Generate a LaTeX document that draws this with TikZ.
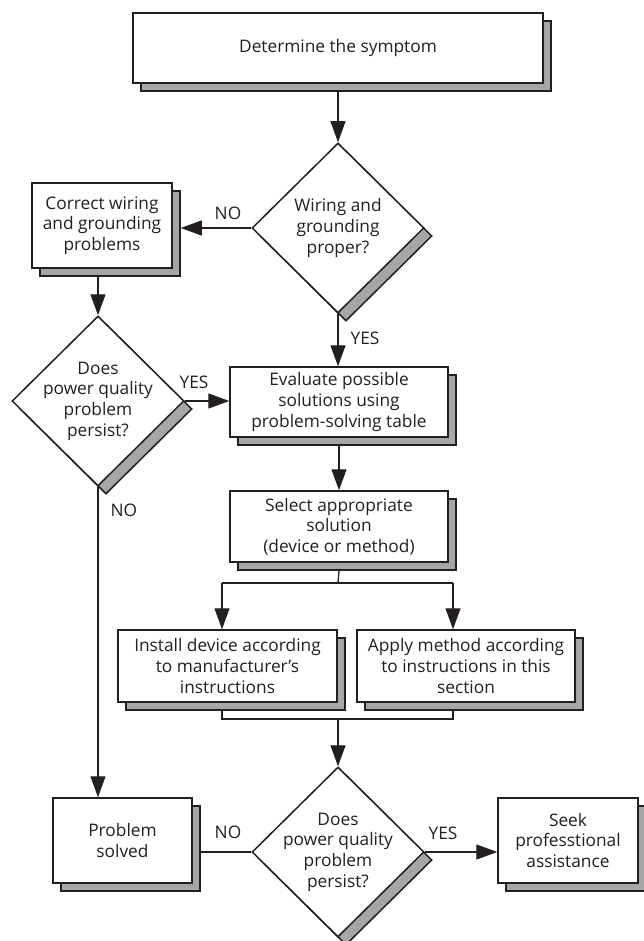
\documentclass[tikz,border=0pt]{standalone}
\usepackage{fontspec}
\setmainfont{Open Sans}
\usetikzlibrary{calc, arrows.meta, shapes.geometric, shadows}

\definecolor{ink}{HTML}{231F20}
\definecolor{shade}{HTML}{A6A6A9}

\begin{document}
\begin{tikzpicture}[x=1pt, y=-1pt, line width=1.3pt, color=ink,
    font=\fontsize{17.3}{20.7}\selectfont,
    shadowed/.style={drop shadow={shadow xshift=8pt, shadow yshift=-8pt,
        fill=shade, draw=ink, opacity=1, line width=1.5pt}},
    box/.style={draw, fill=white, align=center, inner sep=0pt, line width=1.5pt, shadowed},
    decision/.style={diamond, draw, fill=white, inner sep=0pt, line width=1.5pt, shadowed,
        minimum width=172pt, minimum height=170pt},
    arr/.style={-{Triangle[length=21pt, width=15pt]}},
    tag/.style={inner sep=1pt}]
    \useasboundingbox (0,0) rectangle (644,941);

    \node[box, minimum width=410pt, minimum height=70pt] (symptom) at (338,48) {Determine the symptom};
    \node[decision, label={[align=center]center:Wiring and\\grounding\\proper?}] (wiring) at (338,228) {};
    \node[box, minimum width=140pt, minimum height=85pt] (fix) at (102,225.5) {Correct wiring\\and grounding\\problems};
    \node[decision, label={[align=center]center:Does\\power quality\\problem\\persist?}] (persist1) at (98,401) {};
    \node[box, minimum width=218pt, minimum height=70pt] (evaluate) at (339,402) {Evaluate possible\\solutions using\\problem-solving table};
    \node[box, minimum width=218pt, minimum height=71pt] (select) at (339,526.5) {Select appropriate\\solution\\(device or method)};
    \node[box, minimum width=219pt, minimum height=72pt] (install) at (227.5,666) {Install device according\\to manufacturer’s\\instructions};
    \node[box, minimum width=218pt, minimum height=72pt] (apply) at (466,666) {Apply method according\\to instructions in this\\section};
    \node[decision, label={[align=center]center:Does\\power quality\\problem\\persist?}] (persist2) at (338,852) {};
    \node[box, minimum width=139pt, minimum height=85pt] (solved) at (122.5,840.5) {Problem\\solved};
    \node[box, minimum width=140pt, minimum height=85pt] (seek) at (568,840.5) {Seek\\professtional\\assistance};

    \coordinate (split) at (338,583);
    \coordinate (splitL) at (222,583);
    \coordinate (splitR) at (453,583);
    \coordinate (join) at (338,719);
    \coordinate (joinL) at (222,719);
    \coordinate (joinR) at (453,719);

    \draw[arr] ($(symptom.south)+(0,8)$) -- (wiring.north);
    \draw[arr] (wiring.west) -- ($(fix.east |- wiring.west)+(8,0)$);
    \draw[arr] ($(persist1.north |- fix.south)+(0,8)$) -- (persist1.north);
    \draw[arr] (wiring.south) -- (wiring.south |- evaluate.north);
    \draw[arr] (persist1.east) -- (persist1.east -| evaluate.west);
    \draw[arr] ($(evaluate.south)+(0,8)$) -- (select.north);
    \draw ($(select.south)+(0,8)$) -- (split);
    \draw (splitL) -- (splitR);
    \draw[arr] (splitL) -- (splitL |- install.north);
    \draw[arr] (splitR) -- (splitR |- apply.north);
    \draw ($(joinL |- install.south)+(0,8)$) -- (joinL) -- (joinR) -- ($(joinR |- apply.south)+(0,8)$);
    \draw[arr] (join) -- (persist2.north);
    \draw[arr] (persist1.south) -- (persist1.south |- solved.north);
    \draw (persist2.west) -- ($(solved.east |- persist2.west)+(8,0)$);
    \draw[arr] (persist2.east) -- (persist2.east -| seek.west);

    \node[tag] (no1) at (228,213) {NO};
    \node[tag, anchor=west] (yes1) at (349,338) {YES};
    \node[tag] (yes2) at (194,382) {YES};
    \node[tag, anchor=west] (no2) at (109,510) {NO};
    \node[tag] (no3) at (228,832) {NO};
    \node[tag] (yes3) at (443,833) {YES};
\end{tikzpicture}
\end{document}
